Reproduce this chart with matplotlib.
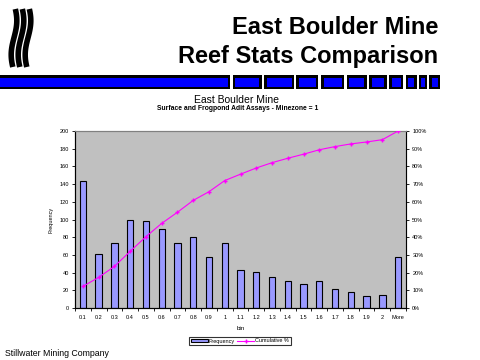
import numpy as np
import matplotlib
matplotlib.use("Agg")
import matplotlib.pyplot as plt
from matplotlib.patches import Rectangle

plt.rcParams["font.family"] = ["Liberation Sans", "DejaVu Sans"]

# ---- dados ----
bins = ["0.1", "0.2", "0.3", "0.4", "0.5", "0.6", "0.7", "0.8", "0.9", "1",
        "1.1", "1.2", "1.3", "1.4", "1.5", "1.6", "1.7", "1.8", "1.9", "2", "More"]
frequency = [144, 61, 73, 100, 98, 89, 74, 80, 58, 74,
             43, 41, 35, 30, 27, 30, 21, 18, 13, 15, 58]
cumulative = [12.2, 17.3, 23.5, 32.0, 40.3, 47.8, 54.1, 60.8, 65.7, 72.0,
              75.6, 79.1, 82.1, 84.6, 86.9, 89.4, 91.2, 92.7, 93.8, 95.1, 100.0]
y_ticks = list(range(0, 201, 20))
pct_ticks = list(range(0, 101, 10))

W, H = 480, 360
fig = plt.figure(figsize=(4.8, 3.6), dpi=100)
fig.patch.set_facecolor("white")

# overlay em coordenadas de pixel para os elementos decorativos
deco = fig.add_axes([0, 0, 1, 1], zorder=-1)
deco.set_xlim(0, W)
deco.set_ylim(H, 0)
deco.axis("off")

# logo: tres faixas onduladas
t = np.linspace(0, 1, 60)
for dx in (0, 7, 14):
    xs = 14 + dx + 2.8 * np.sin(2 * np.pi * t * 0.85 + 0.5)
    ys = 9 + 58 * t
    deco.plot(xs, ys, color="black", lw=4.0, solid_capstyle="butt")

# faixa azul
deco.add_patch(Rectangle((0, 75), 230, 14, facecolor="black", edgecolor="none"))
deco.add_patch(Rectangle((0, 77.5), 228, 9, facecolor="#0000FF", edgecolor="none"))
segs = [(232.7, 261.7), (264.3, 294), (296, 318), (321, 344), (346.7, 366.7),
        (369, 386.7), (389, 403), (405.7, 416.7), (419, 427), (429, 440)]
for a, b in segs:
    deco.add_patch(Rectangle((a, 75), b - a, 14, facecolor="black", edgecolor="none"))
    inset = 2.5 if b - a > 8 else 2.0
    deco.add_patch(Rectangle((a + inset, 77.5), max(b - a - 2 * inset, 1.0), 9,
                             facecolor="#0000FF", edgecolor="none"))

# titulos
fig.text(438 / W, 1 - 27 / H, "East Boulder Mine", ha="right", va="center",
         fontsize=17, fontweight="bold")
fig.text(438 / W, 1 - 57 / H, "Reef Stats Comparison", ha="right", va="center",
         fontsize=17, fontweight="bold")
fig.text(237 / W, 1 - 100 / H, "East Boulder Mine", ha="center", va="center", fontsize=7.5)
fig.text(238 / W, 1 - 108.5 / H, "Surface and Frogpond Adit Assays - Minezone = 1",
         ha="center", va="center", fontsize=4.9, fontweight="bold")
fig.text(5 / W, 1 - 354 / H, "Stillwater Mining Company", ha="left", va="center", fontsize=6.3)

# ---- grafico ----
ax = fig.add_axes([75 / W, 1 - 308 / H, 331 / W, 177 / H])
ax.set_facecolor("#C0C0C0")
x = np.arange(len(bins))
ax.bar(x, frequency, width=0.4, color="#9999FF", edgecolor="black", lw=0.8,
       label="Frequency", zorder=2)
ax.set_xlim(-0.5, len(bins) - 0.5)
ax.set_ylim(0, 200)
ax.set_yticks(y_ticks)
ax.set_yticklabels([str(v) for v in y_ticks], fontsize=4)
ax.set_xticks(np.arange(len(bins) + 1) - 0.5)
ax.set_xticklabels([])
ax.set_xticks(x, minor=True)
ax.set_xticklabels(bins, minor=True, fontsize=4)
ax.tick_params(axis="x", which="minor", length=0, pad=5)
ax.tick_params(axis="x", which="major", length=2.5, width=0.6)
ax.tick_params(axis="y", length=2.5, width=0.6, pad=2)
ax.set_ylabel("Frequency", fontsize=4, labelpad=4)
ax.set_xlabel("bin", fontsize=4.5, labelpad=4)
for s in ("left", "bottom"):
    ax.spines[s].set_linewidth(0.8)
ax.spines["top"].set_color("#808080")
ax.spines["right"].set_color("#808080")

ax2 = ax.twinx()
ax2.plot(x, cumulative, color="#FF00FF", lw=0.8, marker="+", ms=3.5, mew=1.0,
         label="Cumulative %", zorder=3)
ax2.set_ylim(0, 100)
ax2.set_yticks(pct_ticks)
ax2.set_yticklabels([f"{v}%" for v in pct_ticks], fontsize=4)
ax2.tick_params(axis="y", length=2.5, width=0.6, pad=2)
ax2.spines["right"].set_color("black")
ax2.spines["right"].set_linewidth(0.8)
ax2.spines["top"].set_color("#808080")

h1, l1 = ax.get_legend_handles_labels()
h2, l2 = ax2.get_legend_handles_labels()
leg = fig.legend(h1 + h2, l1 + l2, loc="center", bbox_to_anchor=(240 / W, 1 - 341 / H),
                 ncol=2, fontsize=4, frameon=True, fancybox=False, edgecolor="black",
                 handlelength=3, handleheight=0.6, columnspacing=0.4, handletextpad=0.2,
                 borderpad=0.3)
leg.get_frame().set_linewidth(0.8)

fig.savefig("out.png", dpi=100)
